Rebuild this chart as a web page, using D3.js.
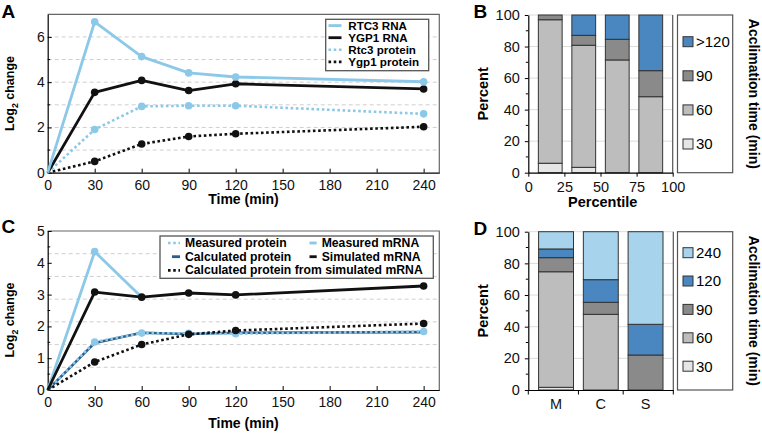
<!DOCTYPE html>
<html><head><meta charset="utf-8">
<script src="https://cdn.jsdelivr.net/npm/d3@7"></script>
<style>
html,body{margin:0;padding:0;background:#fff;}
text{font-family:"Liberation Sans",Arial,Helvetica,sans-serif;}
</style></head>
<body>
<svg id="chart" width="762" height="433"></svg>
<script>
// ---------- DATA ----------
// Panel A
const timesA = [0, 30, 60, 90, 120, 240];
const rtc3RNA = [0, 6.67, 5.13, 4.41, 4.23, 4.02];
const ygp1RNA = [0, 3.55, 4.08, 3.63, 3.93, 3.70];
const rtc3Protein = [0, 1.91, 2.93, 2.96, 2.96, 2.60];
const ygp1Protein = [0, 0.50, 1.27, 1.60, 1.72, 2.03];
const legendA = ["RTC3 RNA", "YGP1 RNA", "Rtc3 protein", "Ygp1 protein"];
const xTicksTime = [0, 30, 60, 90, 120, 150, 180, 210, 240];

// Panel C
const timesC = [0, 30, 60, 90, 120, 240];
const timesMeasuredMRNA = [0, 30, 60];
const measuredMRNA = [0, 4.35, 2.92];
const simulatedMRNA = [0, 3.08, 2.92, 3.05, 2.99, 3.27];
const measuredProtein = [0, 1.51, 1.79, 1.78, 1.77, 1.84];
const calculatedProtein = [0, 1.48, 1.80, 1.76, 1.80, 1.82];
const calcProteinFromSim = [0, 0.88, 1.43, 1.75, 1.87, 2.09];

// Panel B
const percentileBins = ["0-25", "25-50", "50-75", "75-100"];
const keysB = ["30", "60", "90", ">120"];
const b30 = [6.0, 3.4, 0, 0];
const b60 = [91.0, 77.4, 71.5, 48.2];
const b90 = [3.0, 6.3, 13.1, 16.5];
const b120 = [0, 12.9, 15.4, 35.3];
const percentileTicks = [0, 25, 50, 75, 100];

// Panel D
const groupsD = ["M", "C", "S"];
const keysD = ["30", "60", "90", "120", "240"];
const d30 = [1.7, 0, 0];
const d60 = [73.0, 47.8, 0];
const d90 = [8.9, 7.6, 22.1];
const d120 = [5.5, 14.3, 19.4];
const d240 = [10.9, 30.3, 58.5];
const percentTicks = [0, 20, 40, 60, 80, 100];

// ---------- STYLE ----------
const LB = "#8cc8e8", DB = "#2f5d8a", BK = "#111";
const barColors = {"30": "#e6e6e6", "60": "#bdbdbd", "90": "#8a8a8a", ">120": "#4a87c0", "120": "#4a87c0", "240": "#a7d4ec"};
const FONT = '"Liberation Sans",Arial,Helvetica,sans-serif';
const fmt = d3.format("d");

const svg = d3.select("#chart");
svg.append("rect").attr("width", 762).attr("height", 433).attr("fill", "#fff");

function panelLabel(t, x, y) {
  svg.append("text").attr("x", x).attr("y", y).attr("font-size", 19).attr("font-weight", "bold").text(t);
}
function styleAxis(g, fs) {
  g.selectAll("path.domain").attr("stroke", "#000").attr("stroke-width", 1.2);
  g.selectAll(".tick line").attr("stroke", "#000");
  g.selectAll(".tick text").attr("font-size", fs).attr("font-family", FONT).attr("fill", "#111");
}
function yLabel(x, cy, size, build) {
  const t = svg.append("text").attr("transform", `translate(${x},${cy}) rotate(-90)`)
    .attr("text-anchor", "middle").attr("font-size", size).attr("font-weight", "bold");
  build(t);
}
function logLabel(t) {
  t.append("tspan").text("Log");
  t.append("tspan").attr("font-size", "70%").attr("dy", 4).text("2");
  t.append("tspan").attr("dy", -4).text(" change");
}

// ---------- LINE PANELS ----------
function linePanel(opts) {
  const {x, y, gridVals, yTicks, yMinor} = opts;
  const [x0, x1] = x.range();
  const [yb, yt] = y.range();
  const g = svg.append("g");
  g.selectAll("line.grid").data(gridVals).join("line")
    .attr("x1", x0).attr("x2", x1).attr("y1", d => y(d)).attr("y2", d => y(d))
    .attr("stroke", "#cfcfcf").attr("stroke-dasharray", "4,3").attr("stroke-width", 1);
  g.append("path").attr("d", `M${x0},${yt}H${x1}V${yb}`).attr("fill", "none").attr("stroke", "#666").attr("stroke-width", 1.2);
  g.selectAll("line.ym").data(yMinor).join("line")
    .attr("x1", x0).attr("x2", x0 + 2.5).attr("y1", d => y(d)).attr("y2", d => y(d)).attr("stroke", "#000");
  const ax = g.append("g").attr("transform", `translate(${x0},0)`)
    .call(d3.axisLeft(y).tickValues(yTicks).tickFormat(fmt).tickSize(-4).tickSizeOuter(0).tickPadding(3));
  styleAxis(ax, 14);
  const bx = g.append("g").attr("transform", `translate(0,${yb})`)
    .call(d3.axisBottom(x).tickValues(xTicksTime).tickFormat(fmt).tickSize(-4).tickSizeOuter(0).tickPadding(7));
  styleAxis(bx, 14);
  return g;
}
function drawSeries(g, x, y, times, vals, color, dotted, markers, width) {
  const line = d3.line().x((d, i) => x(times[i])).y(d => y(d));
  g.append("path").datum(vals).attr("d", line).attr("fill", "none").attr("stroke", color)
    .attr("stroke-width", width || (dotted ? 2.6 : 2.8))
    .attr("stroke-dasharray", dotted ? "2.6,2.6" : null).attr("stroke-linejoin", "round");
  if (markers) {
    g.selectAll(null).data(vals.map((v, i) => [times[i], v]).slice(1)).join("circle")
      .attr("cx", d => x(d[0])).attr("cy", d => y(d[1])).attr("r", 3.8).attr("fill", color);
  }
}

// Panel A
const xA = d3.scaleLinear().domain([0, 250]).range([47.7, 439.3]);
const yA = d3.scaleLinear().domain([0, 7]).range([172.7, 14.3]);
const gA = linePanel({x: xA, y: yA, gridVals: [1, 2, 3, 4, 5, 6], yTicks: [0, 2, 4, 6], yMinor: [1, 3, 5]});
drawSeries(gA, xA, yA, timesA, ygp1Protein, BK, true, true);
drawSeries(gA, xA, yA, timesA, rtc3Protein, LB, true, true);
drawSeries(gA, xA, yA, timesA, ygp1RNA, BK, false, true);
drawSeries(gA, xA, yA, timesA, rtc3RNA, LB, false, true);
const legA = svg.append("g");
legA.append("rect").attr("x", 325.7).attr("y", 19.3).attr("width", 103).attr("height", 51.4)
  .attr("fill", "#fff").attr("stroke", "#555").attr("stroke-width", 1.3);
const legAStyles = [[LB, false], [BK, false], [LB, true], [BK, true]];
legendA.forEach((t, i) => {
  const by = 29.6 + i * 12.1;
  legA.append("line").attr("x1", 328.5).attr("x2", 341.5).attr("y1", by - 4).attr("y2", by - 4)
    .attr("stroke", legAStyles[i][0]).attr("stroke-width", legAStyles[i][1] ? 2.6 : 2.8)
    .attr("stroke-dasharray", legAStyles[i][1] ? "2.6,2.6" : null);
  legA.append("text").attr("x", 348.3).attr("y", by).attr("font-size", 11.6).attr("font-weight", "bold").text(t);
});
svg.append("text").attr("x", 243.5).attr("y", 204).attr("text-anchor", "middle").attr("font-size", 14).attr("font-weight", "bold").text("Time (min)");
yLabel(14, 93.5, 12.5, logLabel);
panelLabel("A", 1.5, 18.3);

// Panel C
const xC = d3.scaleLinear().domain([0, 250]).range([47.7, 439.3]);
const yC = d3.scaleLinear().domain([0, 5]).range([390, 231]);
const gC = linePanel({x: xC, y: yC, gridVals: d3.range(1, 7).map(i => i * 5 / 7), yTicks: [0, 1, 2, 3, 4, 5], yMinor: [0.5, 1.5, 2.5, 3.5, 4.5]});
drawSeries(gC, xC, yC, timesC, calculatedProtein, DB, false, false, 2.6);
drawSeries(gC, xC, yC, timesC, measuredProtein, LB, true, true);
drawSeries(gC, xC, yC, timesC, calcProteinFromSim, BK, true, true);
drawSeries(gC, xC, yC, timesMeasuredMRNA, measuredMRNA, LB, false, false);
gC.append("circle").attr("cx", xC(timesMeasuredMRNA[1])).attr("cy", yC(measuredMRNA[1])).attr("r", 3.8).attr("fill", LB);
drawSeries(gC, xC, yC, timesC, simulatedMRNA, BK, false, true);
const legC = svg.append("g");
legC.append("rect").attr("x", 160).attr("y", 236).attr("width", 273.3).attr("height", 42.3)
  .attr("fill", "#fff").attr("stroke", "#555").attr("stroke-width", 1.3);
const legCItems = [
  ["Measured protein", LB, true, 168, 185, 247],
  ["Calculated protein", DB, false, 172, 185, 260.7],
  ["Calculated protein from simulated mRNA", BK, true, 168, 185, 274.4],
  ["Measured mRNA", LB, false, 309.5, 321.7, 247],
  ["Simulated mRNA", BK, false, 309.5, 321.7, 260.7]
];
legCItems.forEach(([t, c, dot, sx, tx, by]) => {
  legC.append("line").attr("x1", sx).attr("x2", tx - 5).attr("y1", by - 4).attr("y2", by - 4)
    .attr("stroke", c).attr("stroke-width", dot ? 2.6 : 2.8).attr("stroke-dasharray", dot ? "2.6,2.6" : null);
  legC.append("text").attr("x", tx).attr("y", by).attr("font-size", 12.2).attr("font-weight", "bold").text(t);
});
svg.append("text").attr("x", 243.5).attr("y", 428).attr("text-anchor", "middle").attr("font-size", 14).attr("font-weight", "bold").text("Time (min)");
yLabel(14, 320, 12.5, logLabel);
panelLabel("C", 1.5, 233.3);

// ---------- BAR PANELS ----------
function barPanel(opts) {
  const {cats, keys, rows, x0, x1, yb, yt, band, legendYs, legendKeysTopDown} = opts;
  const y = d3.scaleLinear().domain([0, 100]).range([yb, yt]);
  const g = svg.append("g");
  g.selectAll("line.grid").data([20, 40, 60, 80, 100]).join("line")
    .attr("x1", x0).attr("x2", x1).attr("y1", d => y(d)).attr("y2", d => y(d))
    .attr("stroke", "#dcdcdc").attr("stroke-width", 1);
  const data = cats.map((c, i) => { const o = {cat: c}; keys.forEach((k, j) => o[k] = rows[j][i]); return o; });
  const series = d3.stack().keys(keys)(data);
  series.forEach(s => {
    g.selectAll(null).data(s.filter(d => d[1] - d[0] > 0)).join("rect")
      .attr("x", d => band(d.data.cat)).attr("width", band.bandwidth())
      .attr("y", d => y(d[1])).attr("height", d => y(d[0]) - y(d[1]))
      .attr("fill", barColors[s.key]).attr("stroke", "#333").attr("stroke-width", 1);
  });
  g.append("line").attr("x1", x1).attr("x2", x1).attr("y1", yt).attr("y2", yb).attr("stroke", "#555").attr("stroke-width", 1.2);
  g.selectAll("line.ym").data([10, 30, 50, 70, 90]).join("line")
    .attr("x1", x0 - 2.5).attr("x2", x0).attr("y1", d => y(d)).attr("y2", d => y(d)).attr("stroke", "#000");
  const ax = g.append("g").attr("transform", `translate(${x0},0)`)
    .call(d3.axisLeft(y).tickValues(percentTicks).tickFormat(fmt).tickSize(3.5).tickSizeOuter(0).tickPadding(5));
  styleAxis(ax, 14.5);
  const lg = svg.append("g");
  lg.append("rect").attr("x", 677.5).attr("y", yt).attr("width", 55.2).attr("height", yb - yt)
    .attr("fill", "#fff").attr("stroke", "#555").attr("stroke-width", 1.2);
  legendKeysTopDown.forEach((k, i) => {
    const cy = legendYs[i];
    lg.append("rect").attr("x", 683).attr("y", cy - 5).attr("width", 10).attr("height", 10)
      .attr("fill", barColors[k]).attr("stroke", "#333").attr("stroke-width", 1);
    lg.append("text").attr("x", 696).attr("y", cy + 5.3).attr("font-size", 15).text(k);
  });
  svg.append("text").attr("transform", `translate(749,${(yt + yb) / 2}) rotate(90)`)
    .attr("text-anchor", "middle").attr("font-size", 14).attr("font-weight", "bold").text("Acclimation time (min)");
  svg.append("text").attr("transform", `translate(488,${(yt + yb) / 2}) rotate(-90)`)
    .attr("text-anchor", "middle").attr("font-size", 14.5).attr("font-weight", "bold").text("Percent");
  return {g, y};
}

// Panel B
const xB = d3.scaleLinear().domain([0, 100]).range([528.3, 672.7]);
const bandB = d3.scaleBand().domain(percentileBins).range(xB.range()).paddingInner(0.29).paddingOuter(0.3);
const pB = barPanel({cats: percentileBins, keys: keysB, rows: [b30, b60, b90, b120], x0: 528.3, x1: 672.7, yb: 172.7, yt: 15,
  band: bandB, legendYs: [41.7, 75.8, 109.9, 144], legendKeysTopDown: [">120", "90", "60", "30"]});
const bxB = pB.g.append("g").attr("transform", "translate(0,172.7)")
  .call(d3.axisBottom(xB).tickValues(percentileTicks).tickFormat(fmt).tickSize(4).tickSizeOuter(0).tickPadding(5));
styleAxis(bxB, 14.5);
svg.append("text").attr("x", 602.7).attr("y", 207).attr("text-anchor", "middle").attr("font-size", 14.5).attr("font-weight", "bold").text("Percentile");
panelLabel("B", 473.5, 18.3);

// Panel D
const bandD = d3.scaleBand().domain(groupsD).range([528.3, 673.3]).paddingInner(0.22).paddingOuter(0.23);
const pD = barPanel({cats: groupsD, keys: keysD, rows: [d30, d60, d90, d120, d240], x0: 528.3, x1: 673.3, yb: 390, yt: 231.7,
  band: bandD, legendYs: [252.7, 281, 309.4, 337.8, 366.2], legendKeysTopDown: ["240", "120", "90", "60", "30"]});
const bxD = pD.g.append("g").attr("transform", "translate(0,390)")
  .call(d3.axisBottom(bandD).tickSize(0).tickSizeOuter(0).tickPadding(9));
styleAxis(bxD, 14.5);
const stepD = bandD.step();
const boundaries = [528.3, ...groupsD.slice(1).map(c => bandD(c) - (stepD - bandD.bandwidth()) / 2), 673.3];
pD.g.selectAll("line.bt").data(boundaries).join("line")
  .attr("x1", d => d).attr("x2", d => d).attr("y1", 390).attr("y2", 394.5).attr("stroke", "#000");
panelLabel("D", 473.5, 235);
</script>
</body></html>
